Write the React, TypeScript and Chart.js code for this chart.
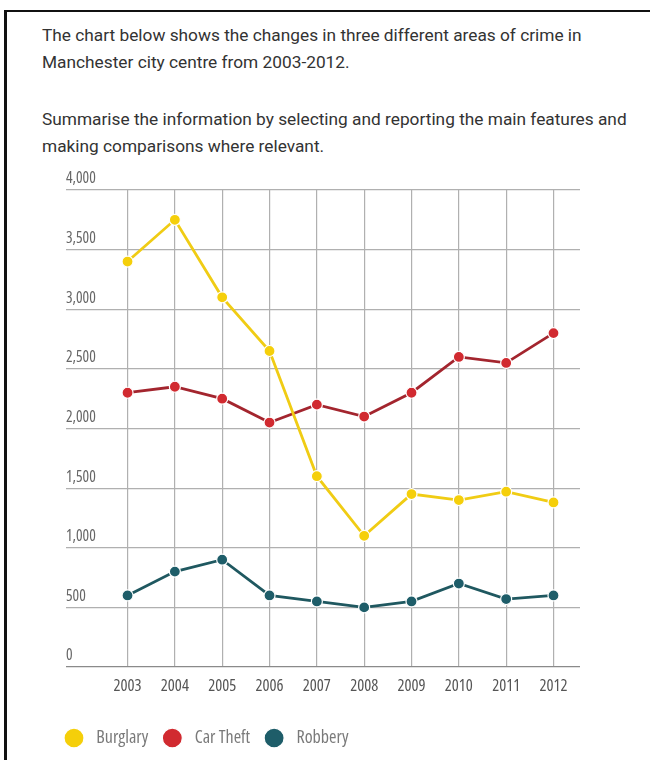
import React, { useEffect, useRef } from "react";
import { Chart, registerables } from "chart.js";

Chart.register(...registerables);

const years = [2003, 2004, 2005, 2006, 2007, 2008, 2009, 2010, 2011, 2012];
const burglary = [3400, 3750, 3100, 2650, 1600, 1100, 1450, 1400, 1470, 1380];
const carTheft = [2300, 2350, 2250, 2050, 2200, 2100, 2300, 2600, 2550, 2800];
const robbery = [600, 800, 900, 600, 550, 500, 550, 700, 570, 600];
const yTicks = [0, 500, 1000, 1500, 2000, 2500, 3000, 3500, 4000];
const seriesNames = ["Burglary", "Car Theft", "Robbery"];

const COND = '"Open Sans", "DejaVu Sans Condensed", sans-serif';
const GRID = "#b0b0b0";

export default function App() {
  const ref = useRef<HTMLCanvasElement | null>(null);

  useEffect(() => {
    if (!ref.current) return;
    const toPts = (arr: number[]) => years.map((x, i) => ({ x, y: arr[i] }));
    const mk = (label: string, arr: number[], line: string, point: string) => ({
      label,
      data: toPts(arr),
      borderColor: line,
      backgroundColor: point,
      borderWidth: 2.8,
      pointRadius: 5.5,
      pointBackgroundColor: point,
      pointBorderColor: "#ffffff",
      pointBorderWidth: 1.2,
      pointStyle: "circle",
      tension: 0,
    });
    const chart = new Chart(ref.current, {
      type: "line",
      data: {
        datasets: [
          mk(seriesNames[0], burglary, "#f0cc14", "#f5cf0a"),
          mk(seriesNames[1], carTheft, "#a3252e", "#d12a30"),
          mk(seriesNames[2], robbery, "#1f5860", "#1e5d69"),
        ],
      },
      options: {
        responsive: false,
        animation: false,
        layout: { padding: { left: 50, right: 70, top: 20, bottom: 3 } },
        plugins: {
          tooltip: { enabled: false },
          legend: {
            position: "bottom",
            align: "start",
            labels: {
              usePointStyle: true,
              pointStyle: "circle",
              pointStyleWidth: 20,
              boxHeight: 14,
              padding: 14,
              color: "#7a7a7a",
              font: { family: COND, size: 18, weight: "condensed" },
              generateLabels: (c: any) =>
                Chart.defaults.plugins.legend.labels
                  .generateLabels(c)
                  .map((l: any) => ({ ...l, text: " " + l.text })),
            },
          },
        },
        scales: {
          x: {
            type: "linear",
            min: 2001.7,
            max: 2012.56,
            afterBuildTicks: (axis: any) => {
              axis.ticks = years.map((v) => ({ value: v }));
            },
            afterFit: (s: any) => {
              s.height = 48;
            },
            ticks: {
              autoSkip: false,
              maxRotation: 0,
              padding: 9,
              color: "#555555",
              font: { family: COND, size: 16.5, weight: "condensed" },
              callback: (v: any) => String(v),
            },
            grid: { color: GRID, lineWidth: 1.2, drawTicks: false },
            border: { display: false },
          },
          y: {
            min: 0,
            max: 4000,
            afterBuildTicks: (axis: any) => {
              axis.ticks = yTicks.map((v) => ({ value: v }));
            },
            afterFit: (s: any) => {
              s.width = 16;
            },
            ticks: {
              mirror: true,
              padding: 0,
              labelOffset: -11,
              color: "#666666",
              font: { family: COND, size: 15.5, weight: "condensed" },
              callback: (v: any) => Number(v).toLocaleString("en-US"),
            },
            grid: {
              color: (ctx: any) => (ctx.tick && ctx.tick.value === 0 ? "#8a8a8a" : GRID),
              lineWidth: 1.2,
              drawTicks: false,
            },
            border: { display: false },
          },
        },
      },
    } as any);
    return () => chart.destroy();
  }, []);

  const pStyle: React.CSSProperties = {
    position: "absolute",
    left: 42,
    margin: 0,
    fontFamily: "Roboto, sans-serif",
    fontSize: 17.3,
    lineHeight: "27px",
    color: "#333333",
    whiteSpace: "nowrap",
  };

  return (
    <div
      style={{
        position: "absolute",
        left: 0,
        top: 0,
        width: 650,
        height: 760,
        overflow: "hidden",
        background: "#ffffff",
      }}
    >
      <div
        style={{
          position: "absolute",
          left: 4,
          top: 10,
          width: 700,
          height: 800,
          borderLeft: "3px solid #111",
          borderTop: "2px solid #111",
        }}
      />
      <p style={{ ...pStyle, top: 22 }}>
        The chart below shows the changes in three different areas of crime in
        <br />
        Manchester city centre from 2003-2012.
      </p>
      <p style={{ ...pStyle, top: 106 }}>
        Summarise the information by selecting and reporting the main features and
        <br />
        making comparisons where relevant.
      </p>
      <canvas
        ref={ref}
        width={650}
        height={590}
        style={{ position: "absolute", left: 0, top: 170, width: 650, height: 590 }}
      />
    </div>
  );
}
